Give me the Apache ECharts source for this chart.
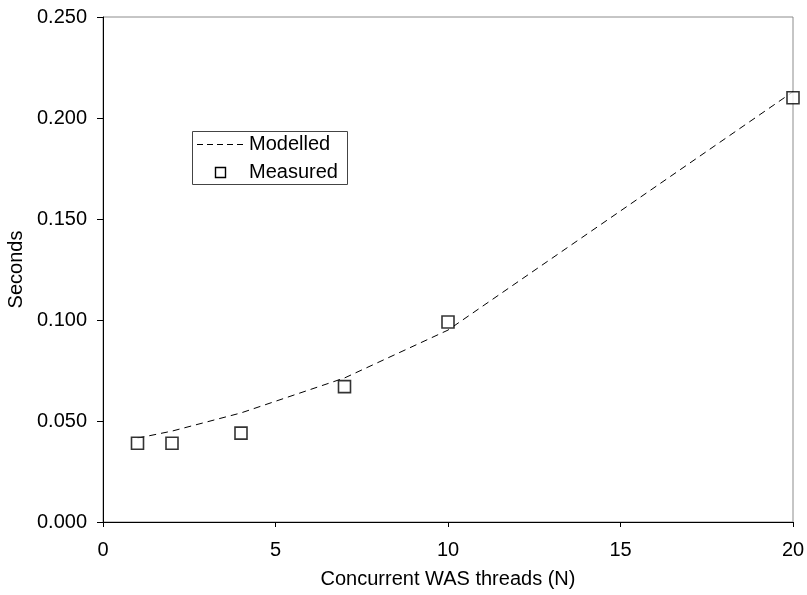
<!DOCTYPE html>
<html>
<head>
<meta charset="utf-8">
<script src="https://cdn.jsdelivr.net/npm/echarts@6/dist/echarts.min.js"></script>
<style>
  html, body { margin: 0; padding: 0; background: #fff; }
  #chart { width: 807px; height: 595px; }
</style>
</head>
<body>
<div id="chart"></div>
<script>
// Response time versus number of concurrent WAS threads
const threads = [1, 2, 4, 7, 10, 20];
const modelled = [0.0415, 0.045, 0.054, 0.0713, 0.095, 0.213];
const measured = [0.039, 0.039, 0.044, 0.067, 0.099, 0.210];
const seriesNames = ['Modelled', 'Measured'];

const FONT = 'Liberation Sans, Arial, sans-serif';
const FS = 20;

// Boxed key in the upper left of the plot
function legendGraphic() {
  const txt = (s, x, y) => ({
    type: 'text', x, y,
    style: { text: s, fontFamily: FONT, fontSize: FS, fill: '#000',
             textVerticalAlign: 'middle', verticalAlign: 'middle' }
  });
  return {
    type: 'group', left: 192, top: 131,
    children: [
      { type: 'rect', shape: { x: 0.5, y: 0.5, width: 155, height: 53 },
        style: { fill: '#fff', stroke: '#444', lineWidth: 1 } },
      { type: 'line', shape: { x1: 5, y1: 13.5, x2: 51, y2: 13.5 },
        style: { stroke: '#000', lineWidth: 1, lineDash: [6, 4] } },
      txt(seriesNames[0], 57, 13),
      { type: 'rect', shape: { x: 23.5, y: 36.5, width: 10, height: 10 },
        style: { fill: '#fff', stroke: '#000', lineWidth: 1.4 } },
      txt(seriesNames[1], 57, 41)
    ]
  };
}

const chart = echarts.init(document.getElementById('chart'));
chart.setOption({
  animation: false,
  backgroundColor: '#fff',
  textStyle: { fontFamily: FONT },
  grid: {
    left: 103, right: 14, top: 17, bottom: 73,
    containLabel: false, outerBoundsMode: 'none',
    show: true, borderColor: '#8c8c8c', borderWidth: 1
  },
  graphic: [legendGraphic()],
  xAxis: {
    type: 'value', min: 0, max: 20, interval: 5,
    name: 'Concurrent WAS threads (N)',
    nameLocation: 'middle', nameGap: 47,
    nameTextStyle: { fontFamily: FONT, fontSize: FS, color: '#000' },
    axisLine: { lineStyle: { color: '#000', width: 1 } },
    axisTick: { show: true, length: 5, lineStyle: { color: '#000' } },
    axisLabel: { fontFamily: FONT, fontSize: FS, color: '#000', margin: 18 },
    splitLine: { show: false }
  },
  yAxis: {
    type: 'value', min: 0, max: 0.25, interval: 0.05,
    name: 'Seconds',
    nameLocation: 'middle', nameGap: 77,
    nameTextStyle: { fontFamily: FONT, fontSize: FS, color: '#000' },
    axisLine: { show: true, lineStyle: { color: '#000', width: 1 } },
    axisTick: { show: true, length: 6, lineStyle: { color: '#000' } },
    axisLabel: {
      fontFamily: FONT, fontSize: FS, color: '#000', margin: 16,
      formatter: v => v.toFixed(3)
    },
    splitLine: { show: false }
  },
  series: [
    {
      name: seriesNames[0],
      type: 'line',
      data: threads.map((t, i) => [t, modelled[i]]),
      showSymbol: false,
      symbol: 'none',
      lineStyle: { color: '#000', width: 1, type: [7, 5] },
      z: 2
    },
    {
      name: seriesNames[1],
      type: 'scatter',
      data: threads.map((t, i) => [t, measured[i]]),
      symbol: 'rect',
      symbolSize: 12,
      itemStyle: { color: '#fff', borderColor: '#000', borderWidth: 1.6 },
      z: 3
    }
  ]
});
</script>
</body>
</html>
